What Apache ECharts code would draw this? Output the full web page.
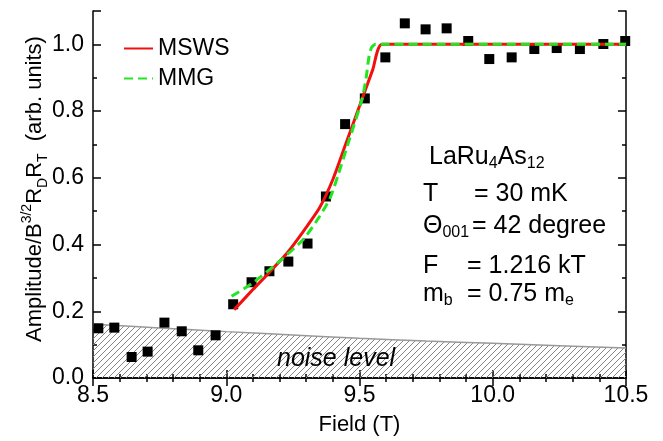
<!DOCTYPE html>
<html>
<head>
<meta charset="utf-8">
<script src="https://cdn.jsdelivr.net/npm/echarts@6/dist/echarts.min.js"></script>
<style>
  html, body { margin: 0; padding: 0; background: #fff; }
  #chart { width: 663px; height: 441px; }
</style>
</head>
<body>
<div id="chart"></div>
<script>
// measured points
const fieldData = [8.52, 8.58, 8.645, 8.705, 8.768, 8.833, 8.895, 8.96, 9.026, 9.095, 9.162, 9.233, 9.305, 9.374,
  9.446, 9.52, 9.597, 9.67, 9.748, 9.827, 9.908, 9.987, 10.071, 10.156, 10.24, 10.327, 10.415, 10.497]
const ampData = [0.149, 0.151, 0.063, 0.079, 0.166, 0.140, 0.083, 0.128, 0.221, 0.287, 0.320, 0.349, 0.403, 0.544,
  0.761, 0.838, 0.961, 1.063, 1.045, 1.048, 1.010, 0.956, 0.961, 0.986, 0.989, 0.986, 1.001, 1.010]

// MSWS fit
const mswsField = [9.03, 9.10, 9.16, 9.23, 9.29, 9.35, 9.40, 9.45, 9.50, 9.55, 9.585, 10.5]
const mswsAmp = [0.205, 0.265, 0.315, 0.376, 0.44, 0.51, 0.595, 0.705, 0.815, 0.925, 1.0, 1.0]

// MMG fit
const mmgField = [9.02, 9.10, 9.21, 9.29, 9.35, 9.39, 9.42, 9.46, 9.51, 9.525, 9.535, 9.545, 9.56, 10.5]
const mmgAmp = [0.245, 0.285, 0.357, 0.416, 0.484, 0.54, 0.609, 0.71, 0.837, 0.90, 0.96, 0.99, 1.0, 1.0]

// noise level
const noiseField = [8.5, 8.75, 9.0, 9.25, 9.5, 9.75, 10.0, 10.25, 10.5]
const noiseAmp = [0.161, 0.150, 0.139, 0.129, 0.119, 0.111, 0.104, 0.097, 0.090]

const FONT = '"Liberation Sans", Arial, sans-serif'

const pairs = (xs, ys) => xs.map((x, i) => [x, ys[i]])

// hatch pattern for the noise area
const hatch = document.createElement('canvas')
hatch.width = 6
hatch.height = 6
const hctx = hatch.getContext('2d')
hctx.strokeStyle = '#858585'
hctx.lineWidth = 1
hctx.beginPath()
hctx.moveTo(0, 6); hctx.lineTo(6, 0)
hctx.moveTo(-1, 1); hctx.lineTo(1, -1)
hctx.moveTo(5, 7); hctx.lineTo(7, 5)
hctx.stroke()

const frameLine = { show: true, lineStyle: { color: '#000', width: 1.5 } }

const xBase = {
  type: 'value', min: 8.5, max: 10.5, interval: 0.5,
  axisLine: frameLine,
  axisTick: { show: true, inside: true, length: 8, lineStyle: { color: '#000', width: 1.5 } },
  minorTick: { show: true, splitNumber: 5, length: 4, lineStyle: { color: '#000', width: 1.5 } },
  splitLine: { show: false },
  minorSplitLine: { show: false },
}

const yMajor = {
  type: 'value', min: 0, max: 1.1, interval: 0.2,
  axisLine: frameLine,
  axisTick: { show: true, inside: true, length: 8, lineStyle: { color: '#000', width: 1.5 } },
  splitLine: { show: false },
}

const yMinor = {
  type: 'value', min: 0, max: 1.1, interval: 0.1,
  axisLine: { show: false },
  axisTick: { show: true, inside: true, length: 4, lineStyle: { color: '#000', width: 1.5 } },
  axisLabel: { show: false },
  splitLine: { show: false },
}

const chart = echarts.init(document.getElementById('chart'), null, { renderer: 'canvas' })

const subRich = {
  m: { fontSize: 25, fontFamily: FONT, lineHeight: 30, color: '#000' },
  s: { fontSize: 16, fontFamily: FONT, lineHeight: 8, verticalAlign: 'bottom', color: '#000' },
}

const anno = (x, y, text) => ({
  type: 'text', x, y, z: 100,
  style: { text, align: 'left', verticalAlign: 'middle', rich: subRich },
})

chart.setOption({
  animation: false,
  grid: { left: 93, right: 37, top: 11, bottom: 59 },
  legend: {
    data: ['MSWS', 'MMG'],
    orient: 'vertical',
    left: 123, top: 37, padding: 0,
    itemWidth: 29, itemHeight: 14, itemGap: 7,
    itemStyle: { opacity: 0 },
    textStyle: { fontSize: 23, fontFamily: FONT, color: '#000' },
  },
  xAxis: [
    Object.assign({}, xBase, {
      position: 'bottom',
      name: 'Field (T)', nameLocation: 'middle', nameGap: 36,
      nameTextStyle: { fontSize: 22, fontFamily: FONT, color: '#000' },
      axisLabel: { margin: 6, fontSize: 23, fontFamily: FONT, color: '#000', formatter: v => v.toFixed(1) },
    }),
    Object.assign({}, xBase, { position: 'top', axisLabel: { show: false } }),
  ],
  yAxis: [
    Object.assign({}, yMajor, {
      position: 'left',
      axisLabel: {
        margin: 9, fontSize: 23, fontFamily: FONT, color: '#000',
        formatter: v => (v > 1.05 ? '' : v.toFixed(1)),
      },
    }),
    Object.assign({}, yMajor, { position: 'right', axisLabel: { show: false } }),
    Object.assign({}, yMinor, { position: 'left' }),
    Object.assign({}, yMinor, { position: 'right' }),
  ],
  series: [
    {
      name: 'noise', type: 'line', data: pairs(noiseField, noiseAmp),
      smooth: 0.3, symbol: 'none', z: 1,
      lineStyle: { color: '#999', width: 1.5 },
      areaStyle: { color: { image: hatch, repeat: 'repeat' }, opacity: 1 },
    },
    {
      name: 'data', type: 'scatter', data: pairs(fieldData, ampData),
      symbol: 'rect', symbolSize: 10, z: 2,
      itemStyle: { color: '#000', opacity: 1 },
    },
    {
      name: 'MSWS', type: 'line', data: pairs(mswsField, mswsAmp),
      smooth: 0.2, symbol: 'none', z: 3,
      lineStyle: { color: '#f01010', width: 3 },
      itemStyle: { color: '#f01010' },
    },
    {
      name: 'MMG', type: 'line', data: pairs(mmgField, mmgAmp),
      smooth: 0.2, symbol: 'none', z: 4,
      lineStyle: { color: '#22e622', width: 3, type: [9, 5] },
      itemStyle: { color: '#22e622' },
    },
  ],
  graphic: [
    {
      type: 'text', x: 35, y: 189, rotation: Math.PI / 2, z: 100,
      style: {
        text: '{m|Amplitude/B}{p|3/2}{m|R}{b|D}{m|R}{b|T}{m|  (arb. units)}',
        align: 'center', verticalAlign: 'middle',
        rich: {
          m: { fontSize: 22, fontFamily: FONT, lineHeight: 30, color: '#000' },
          p: { fontSize: 14, fontFamily: FONT, lineHeight: 22, verticalAlign: 'top', color: '#000' },
          b: { fontSize: 14, fontFamily: FONT, lineHeight: 15, verticalAlign: 'bottom', color: '#000' },
        },
      },
    },
    anno(429, 157, '{m|LaRu}{s|4}{m|As}{s|12}'),
    anno(423, 194, '{m|T}'),
    anno(474, 194, '{m|= 30 mK}'),
    anno(423, 226, '{m|Θ}{s|001}'),
    anno(472, 226, '{m|= 42 degree}'),
    anno(423, 266, '{m|F}'),
    anno(467, 266, '{m|= 1.216 kT}'),
    anno(423, 294, '{m|m}{s|b}'),
    anno(467, 294, '{m|= 0.75 m}{s|e}'),
    {
      type: 'text', x: 277, y: 359, z: 100,
      style: { text: 'noise level', font: 'italic 25px ' + FONT, fill: '#000', align: 'left', verticalAlign: 'middle' },
    },
  ],
})
</script>
</body>
</html>
